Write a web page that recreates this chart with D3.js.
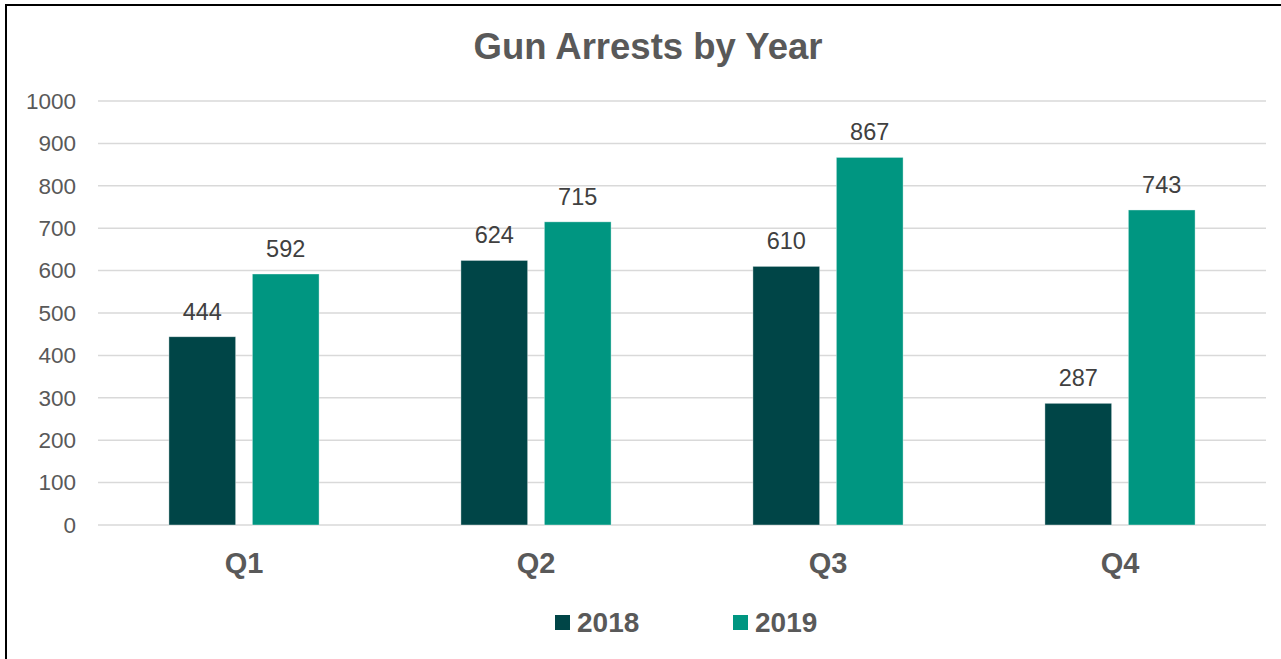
<!DOCTYPE html>
<html><head><meta charset="utf-8">
<script src="https://cdn.jsdelivr.net/npm/d3@7"></script>
<style>body{margin:0;background:#fff;}svg{display:block;}</style>
</head><body>
<svg id="c" width="1281" height="659"></svg>
<script>
const categories = ["Q1","Q2","Q3","Q4"];
const seriesNames = ["2018","2019"];
const values2018 = [444,624,610,287];
const values2019 = [592,715,867,743];
const yTicks = [0,100,200,300,400,500,600,700,800,900,1000];
const colors = ["#004547","#009681"];
const FONT = "Liberation Sans, Arial, sans-serif";

const svg = d3.select("#c");
svg.append("rect").attr("x",6).attr("y",5).attr("width",1290).attr("height",670)
  .attr("fill","#fff").attr("stroke","#000").attr("stroke-width",2);

const m = {left:98,right:1266,top:101,bottom:525};
const x = d3.scaleBand().domain(categories).range([m.left,m.right]).paddingInner(0).paddingOuter(0);
const x1 = d3.scaleBand().domain(seriesNames).range([0,x.bandwidth()]).paddingInner(0.2).paddingOuter(0.85);
const y = d3.scaleLinear().domain([0,1000]).range([m.bottom,m.top]);

// grid
svg.append("g").selectAll("line").data(yTicks).join("line")
  .attr("x1",m.left).attr("x2",m.right)
  .attr("y1",d=>y(d)).attr("y2",d=>y(d))
  .attr("stroke","#d9d9d9").attr("stroke-width",1.5);

// y axis labels
const yAxis = d3.axisLeft(y).tickValues(yTicks).tickSize(0).tickPadding(22).tickFormat(d3.format("d"));
const ya = svg.append("g").attr("transform",`translate(${m.left},0)`).call(yAxis);
ya.select(".domain").remove();
ya.selectAll("text").attr("font-family",FONT).attr("font-size",22.5).attr("fill","#595959");

const data = categories.map((c,i)=>({cat:c, vals:[{s:"2018",v:values2018[i]},{s:"2019",v:values2019[i]}]}));

const g = svg.append("g").selectAll("g").data(data).join("g")
  .attr("transform",d=>`translate(${x(d.cat)},0)`);
g.selectAll("rect").data(d=>d.vals).join("rect")
  .attr("x",d=>x1(d.s)).attr("width",x1.bandwidth())
  .attr("y",d=>y(d.v)).attr("height",d=>y(0)-y(d.v))
  .attr("fill",(d,i)=>colors[i]).attr("stroke","#ffffff").attr("stroke-opacity",0.5).attr("stroke-width",0.75);
g.selectAll("text").data(d=>d.vals).join("text")
  .attr("x",d=>x1(d.s)+x1.bandwidth()/2).attr("y",d=>y(d.v)-17)
  .attr("text-anchor","middle")
  .attr("font-family",FONT).attr("font-size",23.5).attr("fill","#404040")
  .text(d=>d.v);

// x axis labels
const xAxis = d3.axisBottom(x).tickSize(0).tickPadding(0);
const xa = svg.append("g").attr("transform",`translate(0,${m.bottom})`).call(xAxis);
xa.select(".domain").remove();
xa.selectAll("text").attr("dy",null).attr("y",48).attr("font-family",FONT).attr("font-size",29).attr("font-weight","bold").attr("fill","#595959");

// title
svg.append("text").attr("x",648).attr("y",59).attr("text-anchor","middle")
  .attr("font-family",FONT).attr("font-size",36.5).attr("font-weight","bold").attr("fill","#595959")
  .text("Gun Arrests by Year");

// legend
const legX = [555,733];
const lg = svg.append("g").selectAll("g").data(seriesNames).join("g")
  .attr("transform",(d,i)=>`translate(${legX[i]},615)`);
lg.append("rect").attr("width",15).attr("height",15).attr("fill",(d,i)=>colors[i]);
lg.append("text").attr("x",22).attr("y",17).attr("font-family",FONT)
  .attr("font-size",28).attr("font-weight","bold").attr("fill","#595959").text(d=>d);
</script>
</body></html>
